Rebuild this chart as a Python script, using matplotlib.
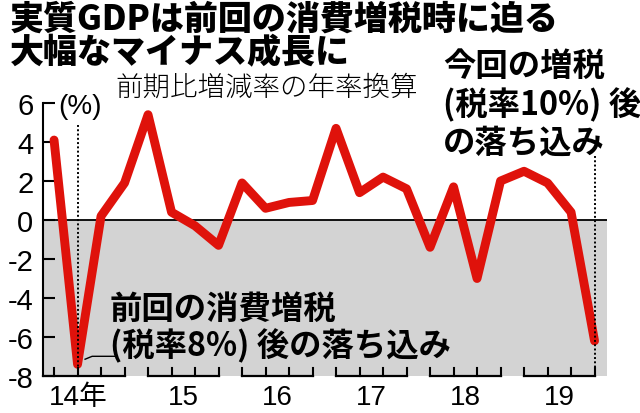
import matplotlib.pyplot as plt
import numpy as np

plt.rcParams['font.family'] = ['Noto Sans CJK JP', 'DejaVu Sans']
plt.rcParams['axes.unicode_minus'] = False

# quarterly real GDP growth, annualized q/q (%), 2014 Q1 .. 2019 Q4
years = ['14年', '15', '16', '17', '18', '19']
growth = [4.1, -7.4, 0.2, 1.9, 5.4, 0.4, -0.3, -1.3,
          1.9, 0.6, 0.9, 1.0, 4.7, 1.4, 2.2, 1.6,
          -1.4, 1.7, -3.0, 2.0, 2.5, 1.9, 0.4, -6.2]
yticks = [6, 4, 2, 0, -2, -4, -6, -8]

W, H = 640, 414
fig = plt.figure(figsize=(W / 100, H / 100), dpi=100)


def px(x, y):
    return x / W, 1 - y / H


ax = fig.add_axes([43 / W, 1 - 377 / H, (607 - 43) / W, (377 - 104) / H])
x = np.arange(len(growth))
xmin, xmax = -0.47, 23.53
ax.set_xlim(xmin, xmax)
ax.set_ylim(-8, 6)

# shaded negative zone and zero line
ax.axhspan(-8, 0, color='#d3d3d3', zorder=0, lw=0)
ax.axhline(0, color='black', lw=1.3, zorder=1)

ax.plot(x, growth, color='#df120b', lw=6.4, solid_joinstyle='round',
        solid_capstyle='round', zorder=3)

# dotted markers for the two tax hikes
ax.plot([1, 1], [4.85, -8], color='black', lw=1.4, ls=(0, (1, 1.2)), zorder=4)
ax.plot([23, 23], [3.3, -8], color='black', lw=1.4, ls=(0, (1, 1.2)), zorder=4)
# leader to the 2014 trough
ax.plot([1.32, 1.62, 2.6], [-7.14, -6.99, -6.99], color='black', lw=1, zorder=4)

for s in ['top', 'right', 'bottom']:
    ax.spines[s].set_visible(False)
ax.spines['left'].set_linewidth(1.5)
ax.set_yticks(yticks)
ax.set_yticklabels([str(v) for v in yticks], fontfamily='Liberation Sans', fontsize=21)
ax.tick_params(axis='y', direction='in', length=8.5, width=1.5, pad=7)
ax.set_xticks([])

# year brackets along the bottom
for k, yr in enumerate(years):
    start = xmin if k == 0 else 4 * k
    ax.plot([start, 4 * k + 3], [-8, -8], color='black', lw=1.6, clip_on=False, zorder=5)
    for q in range(4):
        ax.plot([4 * k + q] * 2, [-8, -7.6], color='black', lw=1.5, clip_on=False, zorder=5)
    xc = 1.05 if k == 0 else 4 * k + 1.5
    ax.text(xc, -9.1, yr, ha='center', va='center', fontsize=20,
            fontfamily=['Liberation Sans', 'Noto Sans CJK JP'])

ax.text(0.17, 5.85, '(%)', ha='left', va='center', fontsize=20, fontfamily='Liberation Sans')

fig.text(*px(10, 19), '実質GDPは前回の消費増税時に迫る', fontsize=24.5,
         fontweight='heavy', va='center', ha='left')
fig.text(*px(10, 53), '大幅なマイナス成長に', fontsize=24.5,
         fontweight='heavy', va='center', ha='left')
fig.text(*px(115, 88), '前期比増減率の年率換算', fontsize=19.8,
         fontweight='light', va='center', ha='left')

note_now = ['今回の増税', '(税率10%) 後', 'の落ち込み']
for line, yc in zip(note_now, [66, 105, 143]):
    fig.text(*px(443, yc), line, fontsize=23.3, fontweight='bold',
             va='center', ha='left')
note_prev = ['前回の消費増税', '(税率8%) 後の落ち込み']
for line, yc in zip(note_prev, [309, 346]):
    fig.text(*px(110, yc), line, fontsize=23.3, fontweight='bold',
             va='center', ha='left')

fig.savefig('out.png', dpi=100)
